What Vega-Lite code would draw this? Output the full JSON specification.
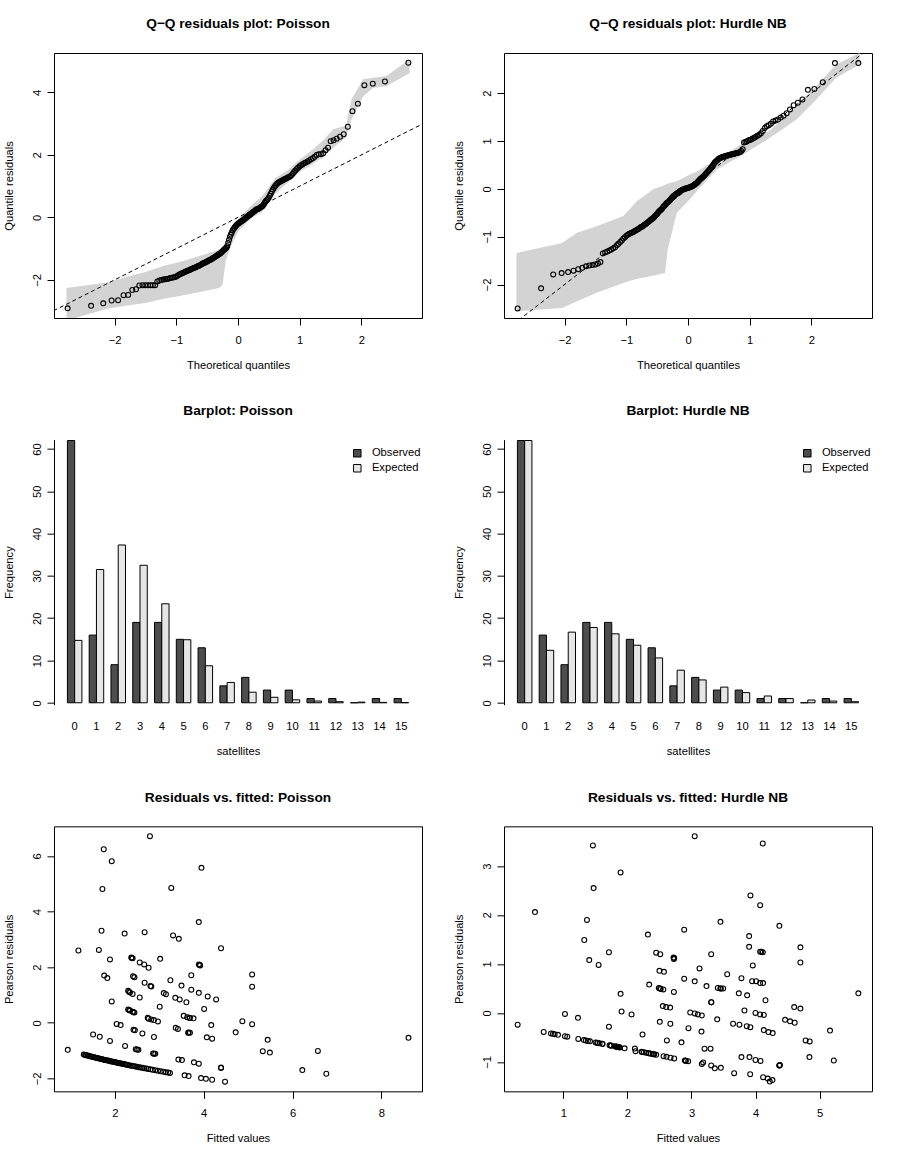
{
"$schema":"https://vega.github.io/schema/vega-lite/v6.json",
"background":"white",
"padding":{"left":2,"top":16,"right":5,"bottom":5},
"config":{
 "font":"Liberation Sans",
 "view":{"stroke":"black","strokeWidth":1},
 "axis":{"grid":false,"domain":false,"ticks":true,"tickColor":"black","tickSize":7,"tickWidth":1,"labelFontSize":11.2,"labelColor":"black","labelOverlap":false,"labelFlush":false,"titleFontSize":11.2,"titleFontWeight":"normal","titleColor":"black","titleBaseline":"alphabetic"},
 "axisQuantitative":{"format":"d"},
 "axisX":{"labelAngle":0,"labelBaseline":"alphabetic","labelPadding":18,"titleY":50},
 "axisY":{"labelAngle":-90,"labelAlign":"center","labelBaseline":"alphabetic","labelPadding":7,"titleX":-42,"titleAngle":-90},
 "title":{"fontSize":13.7,"fontWeight":"bold","color":"black","baseline":"alphabetic","offset":22,"anchor":"middle","frame":"group"}
},
"resolve":{"scale":{"fill":"independent"},"legend":{"fill":"independent"}},
"datasets":{
"ref":[{"x":-4,"y":-4},{"x":6,"y":6}],
"qqP":[{"x":-2.761,"y":-2.91},{"x":-2.381,"y":-2.83},{"x":-2.184,"y":-2.75},{"x":-2.048,"y":-2.66},{"x":-1.943,"y":-2.65},{"x":-1.855,"y":-2.49},{"x":-1.78,"y":-2.48},{"x":-1.713,"y":-2.32},{"x":-1.653,"y":-2.3},{"x":-1.599,"y":-2.18},{"x":-1.549,"y":-2.17},{"x":-1.502,"y":-2.17},{"x":-1.459,"y":-2.17},{"x":-1.419,"y":-2.17},{"x":-1.38,"y":-2.17},{"x":-1.343,"y":-2.17},{"x":-1.308,"y":-2.05},{"x":-1.275,"y":-2.02},{"x":-1.243,"y":-2.0},{"x":-1.212,"y":-1.99},{"x":-1.182,"y":-1.98},{"x":-1.153,"y":-1.97},{"x":-1.127,"y":-1.96},{"x":-1.099,"y":-1.94},{"x":-1.073,"y":-1.93},{"x":-1.048,"y":-1.92},{"x":-1.023,"y":-1.91},{"x":-0.999,"y":-1.89},{"x":-0.975,"y":-1.86},{"x":-0.952,"y":-1.83},{"x":-0.93,"y":-1.81},{"x":-0.907,"y":-1.79},{"x":-0.886,"y":-1.77},{"x":-0.865,"y":-1.75},{"x":-0.844,"y":-1.73},{"x":-0.823,"y":-1.71},{"x":-0.803,"y":-1.7},{"x":-0.783,"y":-1.68},{"x":-0.764,"y":-1.66},{"x":-0.744,"y":-1.64},{"x":-0.726,"y":-1.63},{"x":-0.707,"y":-1.61},{"x":-0.689,"y":-1.6},{"x":-0.67,"y":-1.58},{"x":-0.652,"y":-1.56},{"x":-0.634,"y":-1.55},{"x":-0.616,"y":-1.53},{"x":-0.599,"y":-1.51},{"x":-0.582,"y":-1.49},{"x":-0.565,"y":-1.47},{"x":-0.548,"y":-1.46},{"x":-0.531,"y":-1.44},{"x":-0.514,"y":-1.42},{"x":-0.498,"y":-1.41},{"x":-0.482,"y":-1.39},{"x":-0.466,"y":-1.37},{"x":-0.449,"y":-1.36},{"x":-0.433,"y":-1.34},{"x":-0.418,"y":-1.32},{"x":-0.402,"y":-1.3},{"x":-0.386,"y":-1.28},{"x":-0.371,"y":-1.26},{"x":-0.355,"y":-1.24},{"x":-0.34,"y":-1.22},{"x":-0.325,"y":-1.2},{"x":-0.309,"y":-1.18},{"x":-0.294,"y":-1.16},{"x":-0.279,"y":-1.14},{"x":-0.264,"y":-1.11},{"x":-0.249,"y":-1.08},{"x":-0.234,"y":-1.05},{"x":-0.219,"y":-1.02},{"x":-0.204,"y":-1.0},{"x":-0.19,"y":-0.97},{"x":-0.175,"y":-0.92},{"x":-0.16,"y":-0.82},{"x":-0.146,"y":-0.72},{"x":-0.131,"y":-0.62},{"x":-0.116,"y":-0.55},{"x":-0.102,"y":-0.49},{"x":-0.087,"y":-0.42},{"x":-0.073,"y":-0.37},{"x":-0.058,"y":-0.33},{"x":-0.044,"y":-0.29},{"x":-0.029,"y":-0.26},{"x":-0.0145,"y":-0.23},{"x":0,"y":-0.2},{"x":0.0145,"y":-0.18},{"x":0.029,"y":-0.16},{"x":0.044,"y":-0.14},{"x":0.058,"y":-0.12},{"x":0.073,"y":-0.1},{"x":0.087,"y":-0.08},{"x":0.102,"y":-0.06},{"x":0.116,"y":-0.03},{"x":0.131,"y":-0.01},{"x":0.146,"y":0.01},{"x":0.16,"y":0.04},{"x":0.175,"y":0.06},{"x":0.19,"y":0.08},{"x":0.204,"y":0.1},{"x":0.219,"y":0.13},{"x":0.234,"y":0.15},{"x":0.249,"y":0.18},{"x":0.264,"y":0.2},{"x":0.279,"y":0.22},{"x":0.294,"y":0.25},{"x":0.309,"y":0.26},{"x":0.325,"y":0.27},{"x":0.34,"y":0.29},{"x":0.355,"y":0.31},{"x":0.371,"y":0.33},{"x":0.386,"y":0.35},{"x":0.402,"y":0.37},{"x":0.418,"y":0.42},{"x":0.433,"y":0.47},{"x":0.449,"y":0.52},{"x":0.466,"y":0.55},{"x":0.482,"y":0.59},{"x":0.498,"y":0.63},{"x":0.514,"y":0.69},{"x":0.531,"y":0.76},{"x":0.548,"y":0.83},{"x":0.565,"y":0.89},{"x":0.582,"y":0.95},{"x":0.599,"y":1.0},{"x":0.616,"y":1.04},{"x":0.634,"y":1.08},{"x":0.652,"y":1.11},{"x":0.67,"y":1.13},{"x":0.689,"y":1.15},{"x":0.707,"y":1.17},{"x":0.726,"y":1.19},{"x":0.744,"y":1.21},{"x":0.764,"y":1.23},{"x":0.783,"y":1.25},{"x":0.803,"y":1.27},{"x":0.823,"y":1.29},{"x":0.844,"y":1.31},{"x":0.865,"y":1.35},{"x":0.886,"y":1.4},{"x":0.907,"y":1.45},{"x":0.93,"y":1.5},{"x":0.952,"y":1.55},{"x":0.975,"y":1.59},{"x":0.999,"y":1.64},{"x":1.023,"y":1.67},{"x":1.048,"y":1.7},{"x":1.073,"y":1.73},{"x":1.099,"y":1.76},{"x":1.127,"y":1.79},{"x":1.153,"y":1.82},{"x":1.182,"y":1.86},{"x":1.212,"y":1.89},{"x":1.243,"y":1.94},{"x":1.275,"y":2.0},{"x":1.308,"y":2.02},{"x":1.343,"y":2.02},{"x":1.38,"y":2.05},{"x":1.419,"y":2.15},{"x":1.459,"y":2.23},{"x":1.502,"y":2.44},{"x":1.549,"y":2.47},{"x":1.599,"y":2.52},{"x":1.653,"y":2.58},{"x":1.713,"y":2.66},{"x":1.78,"y":2.9},{"x":1.855,"y":3.4},{"x":1.943,"y":3.64},{"x":2.048,"y":4.23},{"x":2.184,"y":4.28},{"x":2.381,"y":4.35},{"x":2.761,"y":4.95}],
"qqN":[{"x":-2.761,"y":-2.5},{"x":-2.381,"y":-2.08},{"x":-2.184,"y":-1.79},{"x":-2.048,"y":-1.76},{"x":-1.943,"y":-1.74},{"x":-1.855,"y":-1.71},{"x":-1.78,"y":-1.68},{"x":-1.713,"y":-1.65},{"x":-1.653,"y":-1.62},{"x":-1.599,"y":-1.6},{"x":-1.549,"y":-1.59},{"x":-1.502,"y":-1.58},{"x":-1.459,"y":-1.56},{"x":-1.419,"y":-1.53},{"x":-1.38,"y":-1.35},{"x":-1.343,"y":-1.33},{"x":-1.308,"y":-1.31},{"x":-1.275,"y":-1.29},{"x":-1.243,"y":-1.27},{"x":-1.212,"y":-1.24},{"x":-1.182,"y":-1.22},{"x":-1.153,"y":-1.18},{"x":-1.127,"y":-1.15},{"x":-1.099,"y":-1.11},{"x":-1.073,"y":-1.08},{"x":-1.048,"y":-1.04},{"x":-1.023,"y":-1.01},{"x":-0.999,"y":-0.98},{"x":-0.975,"y":-0.96},{"x":-0.952,"y":-0.94},{"x":-0.93,"y":-0.93},{"x":-0.907,"y":-0.91},{"x":-0.886,"y":-0.9},{"x":-0.865,"y":-0.88},{"x":-0.844,"y":-0.87},{"x":-0.823,"y":-0.85},{"x":-0.803,"y":-0.84},{"x":-0.783,"y":-0.82},{"x":-0.764,"y":-0.8},{"x":-0.744,"y":-0.79},{"x":-0.726,"y":-0.77},{"x":-0.707,"y":-0.75},{"x":-0.689,"y":-0.74},{"x":-0.67,"y":-0.72},{"x":-0.652,"y":-0.7},{"x":-0.634,"y":-0.68},{"x":-0.616,"y":-0.66},{"x":-0.599,"y":-0.64},{"x":-0.582,"y":-0.63},{"x":-0.565,"y":-0.61},{"x":-0.548,"y":-0.59},{"x":-0.531,"y":-0.56},{"x":-0.514,"y":-0.54},{"x":-0.498,"y":-0.52},{"x":-0.482,"y":-0.49},{"x":-0.466,"y":-0.47},{"x":-0.449,"y":-0.45},{"x":-0.433,"y":-0.43},{"x":-0.418,"y":-0.41},{"x":-0.402,"y":-0.38},{"x":-0.386,"y":-0.36},{"x":-0.371,"y":-0.34},{"x":-0.355,"y":-0.31},{"x":-0.34,"y":-0.29},{"x":-0.325,"y":-0.28},{"x":-0.309,"y":-0.26},{"x":-0.294,"y":-0.24},{"x":-0.279,"y":-0.22},{"x":-0.264,"y":-0.19},{"x":-0.249,"y":-0.17},{"x":-0.234,"y":-0.15},{"x":-0.219,"y":-0.14},{"x":-0.204,"y":-0.12},{"x":-0.19,"y":-0.11},{"x":-0.175,"y":-0.09},{"x":-0.16,"y":-0.08},{"x":-0.146,"y":-0.07},{"x":-0.131,"y":-0.05},{"x":-0.116,"y":-0.04},{"x":-0.102,"y":-0.03},{"x":-0.087,"y":-0.02},{"x":-0.073,"y":-0.01},{"x":-0.058,"y":-0.005},{"x":-0.044,"y":0.0},{"x":-0.029,"y":0.01},{"x":-0.0145,"y":0.015},{"x":0,"y":0.02},{"x":0.0145,"y":0.03},{"x":0.029,"y":0.035},{"x":0.044,"y":0.04},{"x":0.058,"y":0.05},{"x":0.073,"y":0.06},{"x":0.087,"y":0.07},{"x":0.102,"y":0.08},{"x":0.116,"y":0.1},{"x":0.131,"y":0.11},{"x":0.146,"y":0.13},{"x":0.16,"y":0.15},{"x":0.175,"y":0.17},{"x":0.19,"y":0.19},{"x":0.204,"y":0.21},{"x":0.219,"y":0.22},{"x":0.234,"y":0.24},{"x":0.249,"y":0.26},{"x":0.264,"y":0.28},{"x":0.279,"y":0.3},{"x":0.294,"y":0.32},{"x":0.309,"y":0.34},{"x":0.325,"y":0.37},{"x":0.34,"y":0.39},{"x":0.355,"y":0.41},{"x":0.371,"y":0.44},{"x":0.386,"y":0.46},{"x":0.402,"y":0.49},{"x":0.418,"y":0.52},{"x":0.433,"y":0.55},{"x":0.449,"y":0.57},{"x":0.466,"y":0.59},{"x":0.482,"y":0.61},{"x":0.498,"y":0.63},{"x":0.514,"y":0.64},{"x":0.531,"y":0.65},{"x":0.548,"y":0.66},{"x":0.565,"y":0.67},{"x":0.582,"y":0.67},{"x":0.599,"y":0.68},{"x":0.616,"y":0.69},{"x":0.634,"y":0.69},{"x":0.652,"y":0.7},{"x":0.67,"y":0.71},{"x":0.689,"y":0.72},{"x":0.707,"y":0.72},{"x":0.726,"y":0.73},{"x":0.744,"y":0.73},{"x":0.764,"y":0.74},{"x":0.783,"y":0.75},{"x":0.803,"y":0.75},{"x":0.823,"y":0.76},{"x":0.844,"y":0.77},{"x":0.865,"y":0.79},{"x":0.886,"y":0.83},{"x":0.907,"y":0.97},{"x":0.93,"y":0.98},{"x":0.952,"y":0.99},{"x":0.975,"y":1.01},{"x":0.999,"y":1.02},{"x":1.023,"y":1.03},{"x":1.048,"y":1.05},{"x":1.073,"y":1.07},{"x":1.099,"y":1.09},{"x":1.127,"y":1.11},{"x":1.153,"y":1.13},{"x":1.182,"y":1.16},{"x":1.212,"y":1.21},{"x":1.243,"y":1.27},{"x":1.275,"y":1.31},{"x":1.308,"y":1.33},{"x":1.343,"y":1.36},{"x":1.38,"y":1.41},{"x":1.419,"y":1.43},{"x":1.459,"y":1.45},{"x":1.502,"y":1.49},{"x":1.549,"y":1.53},{"x":1.599,"y":1.58},{"x":1.653,"y":1.66},{"x":1.713,"y":1.75},{"x":1.78,"y":1.8},{"x":1.855,"y":1.87},{"x":1.943,"y":2.07},{"x":2.048,"y":2.09},{"x":2.184,"y":2.23},{"x":2.381,"y":2.63},{"x":2.761,"y":2.63}],
"bandP":[{"x":-2.78,"lo":-3.3,"hi":-2.26},{"x":-2.12,"lo":-2.92,"hi":-2.08},{"x":-1.8,"lo":-2.82,"hi":-1.9},{"x":-1.5,"lo":-2.74,"hi":-1.75},{"x":-1.2,"lo":-2.6,"hi":-1.55},{"x":-0.9,"lo":-2.5,"hi":-1.4},{"x":-0.6,"lo":-2.38,"hi":-1.22},{"x":-0.4,"lo":-2.3,"hi":-1.1},{"x":-0.3,"lo":-2.25,"hi":-1.02},{"x":-0.25,"lo":-2.15,"hi":-0.93},{"x":-0.2,"lo":-1.4,"hi":-0.8},{"x":-0.12,"lo":-0.95,"hi":-0.45},{"x":0,"lo":-0.45,"hi":-0.05},{"x":0.2,"lo":-0.05,"hi":0.35},{"x":0.4,"lo":0.2,"hi":0.7},{"x":0.6,"lo":0.75,"hi":1.25},{"x":0.8,"lo":1.1,"hi":1.5},{"x":1.0,"lo":1.45,"hi":1.85},{"x":1.2,"lo":1.7,"hi":2.15},{"x":1.4,"lo":1.95,"hi":2.5},{"x":1.54,"lo":2.23,"hi":2.82},{"x":1.75,"lo":2.56,"hi":2.93},{"x":1.84,"lo":3.14,"hi":3.78},{"x":2.03,"lo":3.88,"hi":4.42},{"x":2.19,"lo":4.15,"hi":4.47},{"x":2.4,"lo":4.2,"hi":4.52},{"x":2.78,"lo":4.61,"hi":5.06}],
"bandN":[{"x":-2.78,"lo":-2.56,"hi":-1.34},{"x":-2.04,"lo":-2.49,"hi":-1.13},{"x":-1.8,"lo":-2.35,"hi":-0.92},{"x":-1.48,"lo":-2.17,"hi":-0.78},{"x":-1.05,"lo":-1.97,"hi":-0.57},{"x":-0.82,"lo":-1.88,"hi":-0.25},{"x":-0.55,"lo":-1.81,"hi":0.0},{"x":-0.37,"lo":-1.76,"hi":0.08},{"x":-0.33,"lo":-1.27,"hi":0.11},{"x":-0.18,"lo":-0.5,"hi":0.16},{"x":0.03,"lo":-0.22,"hi":0.3},{"x":0.14,"lo":-0.05,"hi":0.36},{"x":0.46,"lo":0.4,"hi":0.62},{"x":0.89,"lo":0.72,"hi":0.95},{"x":1.33,"lo":1.07,"hi":1.22},{"x":1.76,"lo":1.45,"hi":1.75},{"x":2.08,"lo":1.87,"hi":2.15},{"x":2.4,"lo":2.32,"hi":2.6},{"x":2.78,"lo":2.6,"hi":2.84}],
"barP":[{"k":0,"t":"Observed","n":62},{"k":0,"t":"Expected","n":14.75},{"k":1,"t":"Observed","n":16},{"k":1,"t":"Expected","n":31.5},{"k":2,"t":"Observed","n":9},{"k":2,"t":"Expected","n":37.3},{"k":3,"t":"Observed","n":19},{"k":3,"t":"Expected","n":32.5},{"k":4,"t":"Observed","n":19},{"k":4,"t":"Expected","n":23.4},{"k":5,"t":"Observed","n":15},{"k":5,"t":"Expected","n":14.9},{"k":6,"t":"Observed","n":13},{"k":6,"t":"Expected","n":8.75},{"k":7,"t":"Observed","n":4},{"k":7,"t":"Expected","n":4.8},{"k":8,"t":"Observed","n":6},{"k":8,"t":"Expected","n":2.5},{"k":9,"t":"Observed","n":3},{"k":9,"t":"Expected","n":1.3},{"k":10,"t":"Observed","n":3},{"k":10,"t":"Expected","n":0.7},{"k":11,"t":"Observed","n":1},{"k":11,"t":"Expected","n":0.4},{"k":12,"t":"Observed","n":1},{"k":12,"t":"Expected","n":0.25},{"k":13,"t":"Observed","n":0},{"k":13,"t":"Expected","n":0.15},{"k":14,"t":"Observed","n":1},{"k":14,"t":"Expected","n":0.08},{"k":15,"t":"Observed","n":1},{"k":15,"t":"Expected","n":0.04}],
"barN":[{"k":0,"t":"Observed","n":62},{"k":0,"t":"Expected","n":62},{"k":1,"t":"Observed","n":16},{"k":1,"t":"Expected","n":12.4},{"k":2,"t":"Observed","n":9},{"k":2,"t":"Expected","n":16.7},{"k":3,"t":"Observed","n":19},{"k":3,"t":"Expected","n":17.8},{"k":4,"t":"Observed","n":19},{"k":4,"t":"Expected","n":16.3},{"k":5,"t":"Observed","n":15},{"k":5,"t":"Expected","n":13.6},{"k":6,"t":"Observed","n":13},{"k":6,"t":"Expected","n":10.6},{"k":7,"t":"Observed","n":4},{"k":7,"t":"Expected","n":7.7},{"k":8,"t":"Observed","n":6},{"k":8,"t":"Expected","n":5.4},{"k":9,"t":"Observed","n":3},{"k":9,"t":"Expected","n":3.7},{"k":10,"t":"Observed","n":3},{"k":10,"t":"Expected","n":2.4},{"k":11,"t":"Observed","n":1},{"k":11,"t":"Expected","n":1.6},{"k":12,"t":"Observed","n":1},{"k":12,"t":"Expected","n":1.0},{"k":13,"t":"Observed","n":0},{"k":13,"t":"Expected","n":0.65},{"k":14,"t":"Observed","n":1},{"k":14,"t":"Expected","n":0.4},{"k":15,"t":"Observed","n":1},{"k":15,"t":"Expected","n":0.25}],
"scP":[{"x":2.79,"y":6.71},{"x":1.75,"y":6.24},{"x":1.93,"y":5.81},{"x":3.95,"y":5.57},{"x":1.72,"y":4.81},{"x":3.27,"y":4.85},{"x":3.89,"y":3.62},{"x":1.7,"y":3.31},{"x":2.22,"y":3.21},{"x":2.67,"y":3.26},{"x":3.31,"y":3.14},{"x":3.44,"y":3.02},{"x":1.18,"y":2.6},{"x":1.64,"y":2.62},{"x":4.39,"y":2.68},{"x":1.89,"y":2.28},{"x":2.37,"y":2.35},{"x":2.4,"y":2.32},{"x":2.56,"y":2.17},{"x":2.66,"y":2.1},{"x":2.76,"y":1.98},{"x":3.02,"y":2.3},{"x":3.89,"y":2.1},{"x":3.92,"y":2.06},{"x":1.76,"y":1.7},{"x":1.83,"y":1.61},{"x":2.41,"y":1.67},{"x":2.44,"y":1.64},{"x":2.67,"y":1.44},{"x":2.8,"y":1.32},{"x":2.82,"y":1.31},{"x":3.25,"y":1.53},{"x":3.5,"y":1.34},{"x":3.72,"y":1.71},{"x":3.72,"y":1.19},{"x":3.89,"y":1.08},{"x":4.09,"y":0.95},{"x":4.28,"y":0.84},{"x":2.3,"y":1.15},{"x":2.34,"y":1.09},{"x":2.4,"y":1.04},{"x":2.56,"y":0.91},{"x":3.1,"y":1.07},{"x":3.15,"y":1.03},{"x":3.36,"y":0.9},{"x":3.46,"y":0.84},{"x":3.61,"y":0.74},{"x":1.93,"y":0.77},{"x":3.01,"y":0.58},{"x":4.01,"y":0.5},{"x":2.3,"y":0.48},{"x":2.34,"y":0.44},{"x":2.4,"y":0.4},{"x":2.44,"y":0.37},{"x":3.55,"y":0.25},{"x":3.63,"y":0.2},{"x":3.68,"y":0.18},{"x":3.77,"y":0.16},{"x":2.74,"y":0.18},{"x":2.82,"y":0.12},{"x":2.88,"y":0.1},{"x":2.97,"y":0.05},{"x":4.87,"y":0.06},{"x":4.17,"y":-0.08},{"x":2.04,"y":-0.04},{"x":2.13,"y":-0.08},{"x":2.42,"y":-0.25},{"x":2.45,"y":-0.27},{"x":2.62,"y":-0.38},{"x":2.88,"y":-0.51},{"x":3.37,"y":-0.18},{"x":3.42,"y":-0.22},{"x":3.66,"y":-0.35},{"x":3.69,"y":-0.36},{"x":4.72,"y":-0.34},{"x":1.51,"y":-0.42},{"x":1.66,"y":-0.5},{"x":1.89,"y":-0.65},{"x":2.23,"y":-0.83},{"x":2.47,"y":-0.95},{"x":2.53,"y":-0.97},{"x":4.07,"y":-0.52},{"x":4.19,"y":-0.57},{"x":2.86,"y":-1.1},{"x":2.91,"y":-1.11},{"x":3.43,"y":-1.32},{"x":3.51,"y":-1.34},{"x":3.78,"y":-1.42},{"x":3.89,"y":-1.47},{"x":4.39,"y":-1.62},{"x":5.09,"y":1.74},{"x":5.09,"y":1.3},{"x":5.09,"y":-0.05},{"x":5.44,"y":-0.61},{"x":5.33,"y":-1.02},{"x":5.49,"y":-1.07},{"x":6.57,"y":-1.01},{"x":6.22,"y":-1.7},{"x":6.76,"y":-1.83},{"x":8.61,"y":-0.54},{"x":2.32,"y":1.12},{"x":2.32,"y":0.46},{"x":2.76,"y":0.15},{"x":3.69,"y":0.17},{"x":3.91,"y":2.08},{"x":2.38,"y":2.33},{"x":2.42,"y":0.38},{"x":3.65,"y":-0.36},{"x":2.88,"y":-1.11},{"x":2.5,"y":-0.96},{"x":4.39,"y":-1.61},{"x":0.94,"y":-0.97},{"x":1.3,"y":-1.14},{"x":1.33,"y":-1.153},{"x":1.35,"y":-1.162},{"x":1.36,"y":-1.166},{"x":1.39,"y":-1.179},{"x":1.42,"y":-1.192},{"x":1.45,"y":-1.204},{"x":1.48,"y":-1.217},{"x":1.51,"y":-1.229},{"x":1.54,"y":-1.241},{"x":1.57,"y":-1.253},{"x":1.6,"y":-1.265},{"x":1.63,"y":-1.277},{"x":1.66,"y":-1.288},{"x":1.69,"y":-1.3},{"x":1.72,"y":-1.311},{"x":1.75,"y":-1.323},{"x":1.78,"y":-1.334},{"x":1.81,"y":-1.345},{"x":1.84,"y":-1.356},{"x":1.87,"y":-1.367},{"x":1.9,"y":-1.378},{"x":1.93,"y":-1.389},{"x":1.96,"y":-1.4},{"x":1.99,"y":-1.411},{"x":2.02,"y":-1.421},{"x":2.05,"y":-1.432},{"x":2.08,"y":-1.442},{"x":2.11,"y":-1.453},{"x":2.14,"y":-1.463},{"x":2.17,"y":-1.473},{"x":2.2,"y":-1.483},{"x":2.23,"y":-1.493},{"x":2.26,"y":-1.503},{"x":2.3,"y":-1.517},{"x":2.34,"y":-1.53},{"x":2.38,"y":-1.543},{"x":2.42,"y":-1.556},{"x":2.46,"y":-1.568},{"x":2.5,"y":-1.581},{"x":2.54,"y":-1.594},{"x":2.58,"y":-1.606},{"x":2.62,"y":-1.619},{"x":2.66,"y":-1.631},{"x":2.71,"y":-1.646},{"x":2.75,"y":-1.658},{"x":2.8,"y":-1.673},{"x":2.85,"y":-1.688},{"x":2.91,"y":-1.706},{"x":2.97,"y":-1.723},{"x":3.03,"y":-1.741},{"x":3.09,"y":-1.758},{"x":3.15,"y":-1.775},{"x":3.2,"y":-1.789},{"x":3.24,"y":-1.8},{"x":3.57,"y":-1.889},{"x":3.66,"y":-1.913},{"x":3.94,"y":-1.985},{"x":4.05,"y":-2.012},{"x":4.19,"y":-2.047},{"x":4.48,"y":-2.117}],
"scN":[{"x":3.05,"y":3.61},{"x":1.462,"y":3.42},{"x":1.894,"y":2.87},{"x":1.473,"y":2.55},{"x":0.558,"y":2.06},{"x":1.369,"y":1.9},{"x":1.327,"y":1.49},{"x":2.32,"y":1.6},{"x":2.886,"y":1.7},{"x":1.712,"y":1.24},{"x":1.405,"y":1.08},{"x":1.551,"y":0.98},{"x":2.449,"y":1.23},{"x":2.512,"y":1.2},{"x":2.72,"y":1.13},{"x":2.725,"y":1.1},{"x":2.5,"y":0.86},{"x":2.57,"y":0.84},{"x":2.886,"y":0.7},{"x":3.05,"y":0.645},{"x":2.34,"y":0.58},{"x":2.49,"y":0.51},{"x":2.52,"y":0.49},{"x":2.56,"y":0.48},{"x":2.725,"y":0.43},{"x":1.894,"y":0.39},{"x":2.553,"y":0.14},{"x":2.605,"y":0.12},{"x":2.667,"y":0.11},{"x":1.909,"y":0.03},{"x":2.065,"y":-0.03},{"x":2.98,"y":0.01},{"x":1.026,"y":-0.02},{"x":1.229,"y":-0.1},{"x":2.506,"y":-0.18},{"x":2.67,"y":-0.22},{"x":2.953,"y":-0.31},{"x":0.288,"y":-0.24},{"x":1.712,"y":-0.28},{"x":2.236,"y":-0.44},{"x":2.616,"y":-0.56},{"x":2.844,"y":-0.6},{"x":4.112,"y":3.46},{"x":3.92,"y":2.4},{"x":4.071,"y":2.2},{"x":3.452,"y":1.86},{"x":4.371,"y":1.78},{"x":3.899,"y":1.57},{"x":3.899,"y":1.35},{"x":4.071,"y":1.25},{"x":4.112,"y":1.24},{"x":3.307,"y":1.2},{"x":4.699,"y":1.34},{"x":4.699,"y":1.03},{"x":3.125,"y":0.91},{"x":3.956,"y":0.97},{"x":3.557,"y":0.79},{"x":3.234,"y":0.55},{"x":3.779,"y":0.71},{"x":3.946,"y":0.65},{"x":4.008,"y":0.65},{"x":4.071,"y":0.61},{"x":4.117,"y":0.61},{"x":3.411,"y":0.51},{"x":3.458,"y":0.5},{"x":3.494,"y":0.5},{"x":3.738,"y":0.4},{"x":3.868,"y":0.36},{"x":3.307,"y":0.22},{"x":4.154,"y":0.26},{"x":5.603,"y":0.4},{"x":4.602,"y":0.12},{"x":4.699,"y":0.09},{"x":3.826,"y":0.05},{"x":3.052,"y":-0.01},{"x":3.099,"y":-0.03},{"x":3.161,"y":-0.05},{"x":3.998,"y":0.0},{"x":4.071,"y":-0.03},{"x":4.128,"y":-0.04},{"x":3.401,"y":-0.13},{"x":4.46,"y":-0.14},{"x":4.538,"y":-0.17},{"x":4.61,"y":-0.2},{"x":3.649,"y":-0.22},{"x":3.748,"y":-0.24},{"x":3.862,"y":-0.27},{"x":3.918,"y":-0.29},{"x":3.156,"y":-0.38},{"x":4.128,"y":-0.35},{"x":4.2,"y":-0.39},{"x":4.267,"y":-0.41},{"x":4.781,"y":-0.56},{"x":4.844,"y":-0.58},{"x":5.161,"y":-0.36},{"x":3.203,"y":-0.73},{"x":3.297,"y":-0.73},{"x":3.779,"y":-0.9},{"x":3.904,"y":-0.9},{"x":3.998,"y":-0.96},{"x":4.077,"y":-0.98},{"x":4.371,"y":-1.07},{"x":4.38,"y":-1.06},{"x":4.84,"y":-0.9},{"x":5.22,"y":-0.97},{"x":3.45,"y":0.5},{"x":4.09,"y":1.25},{"x":2.73,"y":1.12},{"x":3.31,"y":0.22},{"x":2.51,"y":0.5},{"x":4.37,"y":-1.07},{"x":0.694,"y":-0.387},{"x":0.808,"y":-0.418},{"x":0.839,"y":-0.426},{"x":0.865,"y":-0.433},{"x":0.917,"y":-0.446},{"x":1.026,"y":-0.475},{"x":1.062,"y":-0.485},{"x":1.234,"y":-0.53},{"x":1.322,"y":-0.554},{"x":1.353,"y":-0.562},{"x":1.384,"y":-0.57},{"x":1.416,"y":-0.579},{"x":1.504,"y":-0.602},{"x":1.53,"y":-0.609},{"x":1.535,"y":-0.611},{"x":1.566,"y":-0.619},{"x":1.608,"y":-0.63},{"x":1.613,"y":-0.631},{"x":1.722,"y":-0.66},{"x":1.743,"y":-0.665},{"x":1.748,"y":-0.667},{"x":1.805,"y":-0.682},{"x":1.826,"y":-0.688},{"x":1.836,"y":-0.691},{"x":1.842,"y":-0.692},{"x":1.852,"y":-0.695},{"x":1.862,"y":-0.697},{"x":1.868,"y":-0.699},{"x":1.883,"y":-0.703},{"x":1.956,"y":-0.722},{"x":2.117,"y":-0.727},{"x":2.127,"y":-0.78},{"x":2.221,"y":-0.793},{"x":2.231,"y":-0.795},{"x":2.257,"y":-0.802},{"x":2.294,"y":-0.812},{"x":2.33,"y":-0.821},{"x":2.34,"y":-0.824},{"x":2.366,"y":-0.831},{"x":2.397,"y":-0.839},{"x":2.408,"y":-0.842},{"x":2.418,"y":-0.845},{"x":2.449,"y":-0.854},{"x":2.564,"y":-0.883},{"x":2.61,"y":-0.896},{"x":2.673,"y":-0.912},{"x":2.73,"y":-0.928},{"x":2.896,"y":-0.972},{"x":2.906,"y":-0.975},{"x":2.912,"y":-0.976},{"x":2.948,"y":-0.985},{"x":3.161,"y":-1.04},{"x":3.182,"y":-1.01},{"x":3.307,"y":-1.07},{"x":3.364,"y":-1.13},{"x":3.458,"y":-1.12},{"x":3.665,"y":-1.23},{"x":3.915,"y":-1.25},{"x":4.117,"y":-1.31},{"x":4.19,"y":-1.34},{"x":4.221,"y":-1.4},{"x":4.263,"y":-1.37}]
},
"columns":2,
"spacing":{"row":121.67,"column":82},
"bounds":"flush",
"concat":[
 {"width":368,"height":265,"title":"Q−Q residuals plot: Poisson",
  "layer":[
   {"data":{"name":"bandP"},"mark":{"type":"area","color":"#D3D3D3","clip":true},
    "encoding":{"x":{"field":"x","type":"quantitative","scale":{"domain":[-2.982,2.982],"nice":false,"zero":false},"axis":{"values":[-2,-1,0,1,2],"title":"Theoretical quantiles"}},
     "y":{"field":"lo","type":"quantitative","scale":{"domain":[-3.22,5.26],"nice":false,"zero":false},"axis":{"values":[-2,0,2,4],"title":"Quantile residuals"}},
     "y2":{"field":"hi"}}},
   {"data":{"name":"ref"},"mark":{"type":"line","color":"black","strokeDash":[4,3],"strokeWidth":1,"clip":true},
    "encoding":{"x":{"field":"x","type":"quantitative"},"y":{"field":"y","type":"quantitative"}}},
   {"data":{"name":"qqP"},"mark":{"type":"point","shape":"circle","filled":false,"color":"black","opacity":1,"size":24,"strokeWidth":1.1},
    "encoding":{"x":{"field":"x","type":"quantitative"},"y":{"field":"y","type":"quantitative"}}}
  ]},
 {"width":368,"height":265,"title":"Q−Q residuals plot: Hurdle NB",
  "layer":[
   {"data":{"name":"bandN"},"mark":{"type":"area","color":"#D3D3D3","clip":true},
    "encoding":{"x":{"field":"x","type":"quantitative","scale":{"domain":[-2.982,2.982],"nice":false,"zero":false},"axis":{"values":[-2,-1,0,1,2],"title":"Theoretical quantiles"}},
     "y":{"field":"lo","type":"quantitative","scale":{"domain":[-2.70,2.84],"nice":false,"zero":false},"axis":{"values":[-2,-1,0,1,2],"title":"Quantile residuals"}},
     "y2":{"field":"hi"}}},
   {"data":{"name":"ref"},"mark":{"type":"line","color":"black","strokeDash":[4,3],"strokeWidth":1,"clip":true},
    "encoding":{"x":{"field":"x","type":"quantitative"},"y":{"field":"y","type":"quantitative"}}},
   {"data":{"name":"qqN"},"mark":{"type":"point","shape":"circle","filled":false,"color":"black","opacity":1,"size":24,"strokeWidth":1.1},
    "encoding":{"x":{"field":"x","type":"quantitative"},"y":{"field":"y","type":"quantitative"}}}
  ]},
 {"width":368,"height":265,"title":"Barplot: Poisson","data":{"name":"barP"},"view":{"stroke":null},
  "mark":{"type":"bar","stroke":"black","strokeWidth":1},
  "encoding":{
   "x":{"field":"k","type":"ordinal","scale":{"paddingInner":0.3333,"paddingOuter":0.616},"axis":{"title":"satellites","ticks":false,"tickSize":0,"domain":false,"labelPadding":24.7,"labelAngle":0}},
   "xOffset":{"field":"t","type":"nominal","scale":{"domain":["Observed","Expected"],"paddingInner":0,"paddingOuter":0}},
   "y":{"field":"n","type":"quantitative","scale":{"domain":[-0.45,62.2],"nice":false,"zero":false},"axis":{"values":[0,10,20,30,40,50,60],"title":"Frequency","domain":true,"domainColor":"black"}},
   "y2":{"datum":0},
   "fill":{"field":"t","type":"nominal","scale":{"domain":["Observed","Expected"],"range":["#4D4D4D","#E6E6E6"]},"legend":{"title":null,"orient":"none","legendX":297.7,"legendY":8,"symbolType":"square","symbolSize":56,"symbolStrokeColor":"black","symbolStrokeWidth":1,"labelFontSize":11.2,"labelColor":"black","labelOffset":9,"rowPadding":2,"padding":0}}
  }},
 {"width":368,"height":265,"title":"Barplot: Hurdle NB","data":{"name":"barN"},"view":{"stroke":null},
  "mark":{"type":"bar","stroke":"black","strokeWidth":1},
  "encoding":{
   "x":{"field":"k","type":"ordinal","scale":{"paddingInner":0.3333,"paddingOuter":0.616},"axis":{"title":"satellites","ticks":false,"tickSize":0,"domain":false,"labelPadding":24.7,"labelAngle":0}},
   "xOffset":{"field":"t","type":"nominal","scale":{"domain":["Observed","Expected"],"paddingInner":0,"paddingOuter":0}},
   "y":{"field":"n","type":"quantitative","scale":{"domain":[-0.45,62.2],"nice":false,"zero":false},"axis":{"values":[0,10,20,30,40,50,60],"title":"Frequency","domain":true,"domainColor":"black"}},
   "y2":{"datum":0},
   "fill":{"field":"t","type":"nominal","scale":{"domain":["Observed","Expected"],"range":["#4D4D4D","#E6E6E6"]},"legend":{"title":null,"orient":"none","legendX":297.7,"legendY":8,"symbolType":"square","symbolSize":56,"symbolStrokeColor":"black","symbolStrokeWidth":1,"labelFontSize":11.2,"labelColor":"black","labelOffset":9,"rowPadding":2,"padding":0}}
  }},
 {"width":368,"height":265,"title":"Residuals vs. fitted: Poisson","data":{"name":"scP"},
  "mark":{"type":"point","shape":"circle","filled":false,"color":"black","opacity":1,"size":24,"strokeWidth":1.1},
  "encoding":{
   "x":{"field":"x","type":"quantitative","scale":{"domain":[0.63,8.914],"nice":false,"zero":false},"axis":{"values":[2,4,6,8],"title":"Fitted values"}},
   "y":{"field":"y","type":"quantitative","scale":{"domain":[-2.463,7.063],"nice":false,"zero":false},"axis":{"values":[-2,0,2,4,6],"title":"Pearson residuals"}}
  }},
 {"width":368,"height":265,"title":"Residuals vs. fitted: Hurdle NB","data":{"name":"scN"},
  "mark":{"type":"point","shape":"circle","filled":false,"color":"black","opacity":1,"size":24,"strokeWidth":1.1},
  "encoding":{
   "x":{"field":"x","type":"quantitative","scale":{"domain":[0.075,5.816],"nice":false,"zero":false},"axis":{"values":[1,2,3,4,5],"title":"Fitted values"}},
   "y":{"field":"y","type":"quantitative","scale":{"domain":[-1.6,3.81],"nice":false,"zero":false},"axis":{"values":[-1,0,1,2,3],"title":"Pearson residuals"}}
  }}
]
}
